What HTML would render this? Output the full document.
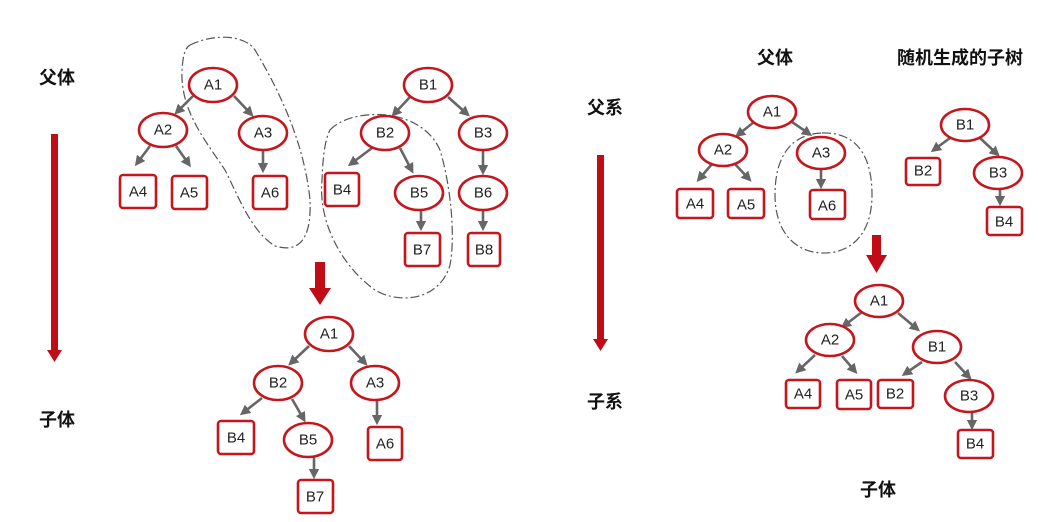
<!DOCTYPE html>
<html><head><meta charset="utf-8"><style>
html,body{margin:0;padding:0;background:#fff;}
svg{display:block;}
text{font-family:"Liberation Sans","Noto Sans CJK SC",sans-serif;}
.n{fill:#fff;stroke:#c4161c;stroke-width:2.6;}
.t{font-size:15px;fill:#222;text-anchor:middle;dominant-baseline:central;}
.e{stroke:#666;stroke-width:2.6;fill:none;marker-end:url(#ah);}
.d{fill:none;stroke:#555;stroke-width:1.2;stroke-dasharray:9 3 2 3;}
.l{font-size:18px;font-weight:bold;fill:#111;text-anchor:middle;dominant-baseline:central;font-family:"Liberation Sans","Noto Sans CJK SC",sans-serif;}
</style></head><body>
<svg width="1038" height="522" viewBox="0 0 1038 522" xmlns="http://www.w3.org/2000/svg">
<defs><marker id="ah" markerWidth="4" markerHeight="4" refX="2" refY="2" orient="auto" markerUnits="strokeWidth"><path d="M0,0 L4,2 L0,4 Z" fill="#666"/></marker></defs>

<!-- left labels & arrow -->
<text class="l" x="57" y="78">父体</text>
<text class="l" x="57" y="420">子体</text>
<rect x="51" y="134" width="7" height="218" fill="#c00c17"/>
<path d="M47,350 L62,350 L54.5,362 Z" fill="#c00c17"/>

<!-- dashed loops left -->
<path class="d" d="M190,45 C215,33 245,35 255,50 C285,100 305,150 310,200 C312,245 295,252 275,246 C252,232 240,200 225,170 C205,140 180,110 182,70 C183,55 185,48 190,45 Z"/>
<path class="d" d="M330,130 C350,108 420,105 440,150 C452,190 455,240 450,265 C440,300 400,305 375,290 C340,265 318,220 322,180 C323,155 325,140 330,130 Z"/>

<!-- left top edges -->
<line class="e" x1="193" y1="96" x2="178" y2="111"/>
<line class="e" x1="234" y1="96" x2="250" y2="113"/>
<line class="e" x1="150" y1="146" x2="138" y2="162"/>
<line class="e" x1="176" y1="146" x2="188" y2="163"/>
<line class="e" x1="263" y1="150" x2="263" y2="168"/>
<line class="e" x1="410" y1="97" x2="395" y2="113"/>
<line class="e" x1="448" y1="97" x2="466" y2="113"/>
<line class="e" x1="372" y1="148" x2="352" y2="163"/>
<line class="e" x1="400" y1="148" x2="411" y2="169"/>
<line class="e" x1="483" y1="150" x2="483" y2="170"/>
<line class="e" x1="421" y1="210" x2="421" y2="226"/>
<line class="e" x1="483" y1="210" x2="483" y2="226"/>

<!-- left top nodes -->
<ellipse class="n" cx="213" cy="85" rx="24" ry="17"/><text class="t" x="213" y="85">A1</text>
<ellipse class="n" cx="163" cy="130" rx="24" ry="17"/><text class="t" x="163" y="130">A2</text>
<ellipse class="n" cx="263" cy="133" rx="24" ry="17"/><text class="t" x="263" y="133">A3</text>
<rect class="n" x="120" y="175" width="36" height="33" rx="3"/><text class="t" x="138" y="192">A4</text>
<rect class="n" x="172" y="176" width="35" height="33" rx="3"/><text class="t" x="189" y="193">A5</text>
<rect class="n" x="253" y="176" width="34" height="33" rx="3"/><text class="t" x="270" y="193">A6</text>
<ellipse class="n" cx="428" cy="85" rx="24" ry="17"/><text class="t" x="428" y="85">B1</text>
<ellipse class="n" cx="385" cy="133" rx="24" ry="17"/><text class="t" x="385" y="133">B2</text>
<ellipse class="n" cx="483" cy="133" rx="24" ry="17"/><text class="t" x="483" y="133">B3</text>
<rect class="n" x="325" y="173" width="34" height="33" rx="3"/><text class="t" x="342" y="190">B4</text>
<ellipse class="n" cx="419" cy="193" rx="24" ry="17"/><text class="t" x="419" y="193">B5</text>
<ellipse class="n" cx="483" cy="193" rx="24" ry="17"/><text class="t" x="483" y="193">B6</text>
<rect class="n" x="405" y="233" width="35" height="33" rx="3"/><text class="t" x="422" y="250">B7</text>
<rect class="n" x="468" y="233" width="32" height="33" rx="3"/><text class="t" x="484" y="250">B8</text>

<!-- red down arrow -->
<rect x="315" y="262" width="10" height="28" fill="#c00c17"/>
<path d="M309,288 L331,288 L320,305 Z" fill="#c00c17"/>

<!-- left bottom -->
<line class="e" x1="309" y1="346" x2="292" y2="362"/>
<line class="e" x1="349" y1="346" x2="364" y2="362"/>
<line class="e" x1="262" y1="398" x2="244" y2="412"/>
<line class="e" x1="292" y1="399" x2="303" y2="418"/>
<line class="e" x1="377" y1="400" x2="377" y2="420"/>
<line class="e" x1="314" y1="457" x2="314" y2="474"/>
<ellipse class="n" cx="329" cy="334" rx="24" ry="17"/><text class="t" x="329" y="334">A1</text>
<ellipse class="n" cx="278" cy="383" rx="24" ry="17"/><text class="t" x="278" y="383">B2</text>
<ellipse class="n" cx="375" cy="383" rx="24" ry="17"/><text class="t" x="375" y="383">A3</text>
<rect class="n" x="218" y="421" width="36" height="33" rx="3"/><text class="t" x="236" y="438">B4</text>
<ellipse class="n" cx="308" cy="440" rx="24" ry="17"/><text class="t" x="308" y="440">B5</text>
<rect class="n" x="368" y="427" width="34" height="33" rx="3"/><text class="t" x="385" y="444">A6</text>
<rect class="n" x="298" y="480" width="35" height="33" rx="3"/><text class="t" x="315" y="497">B7</text>

<!-- right labels -->
<text class="l" x="775" y="58">父体</text>
<text class="l" x="960" y="58">随机生成的子树</text>
<text class="l" x="605" y="108">父系</text>
<text class="l" x="605" y="402">子系</text>
<text class="l" x="878" y="490">子体</text>
<rect x="597" y="155" width="7" height="186" fill="#c00c17"/>
<path d="M593,339 L608,339 L600.5,351 Z" fill="#c00c17"/>

<!-- right dashed loop -->
<path class="d" d="M822,133 C852,132 872,150 872,195 C872,235 850,254 822,253 C795,252 775,232 775,195 C775,155 792,134 822,133 Z"/>

<!-- right top edges -->
<line class="e" x1="754" y1="122" x2="739" y2="134"/>
<line class="e" x1="792" y1="122" x2="808" y2="133"/>
<line class="e" x1="712" y1="164" x2="700" y2="178"/>
<line class="e" x1="735" y1="164" x2="748" y2="178"/>
<line class="e" x1="821" y1="170" x2="821" y2="184"/>
<line class="e" x1="950" y1="138" x2="935" y2="149"/>
<line class="e" x1="980" y1="138" x2="996" y2="153"/>
<line class="e" x1="1000" y1="190" x2="1000" y2="201"/>

<ellipse class="n" cx="772" cy="112" rx="24" ry="16"/><text class="t" x="772" y="112">A1</text>
<ellipse class="n" cx="723" cy="150" rx="24" ry="16"/><text class="t" x="723" y="150">A2</text>
<ellipse class="n" cx="821" cy="153" rx="24" ry="16"/><text class="t" x="821" y="153">A3</text>
<rect class="n" x="677" y="189" width="36" height="29" rx="3"/><text class="t" x="695" y="204">A4</text>
<rect class="n" x="728" y="189" width="36" height="29" rx="3"/><text class="t" x="746" y="205">A5</text>
<rect class="n" x="810" y="190" width="35" height="29" rx="3"/><text class="t" x="827" y="206">A6</text>
<ellipse class="n" cx="965" cy="125" rx="24" ry="16"/><text class="t" x="965" y="125">B1</text>
<rect class="n" x="906" y="158" width="34" height="27" rx="3"/><text class="t" x="923" y="171">B2</text>
<ellipse class="n" cx="998" cy="173" rx="24" ry="16"/><text class="t" x="998" y="173">B3</text>
<rect class="n" x="987" y="207" width="35" height="28" rx="3"/><text class="t" x="1004" y="222">B4</text>

<!-- right red arrow -->
<rect x="872" y="235" width="9" height="22" fill="#c00c17"/>
<path d="M866,255 L887,255 L876.5,273 Z" fill="#c00c17"/>

<!-- right bottom -->
<line class="e" x1="862" y1="312" x2="845" y2="325"/>
<line class="e" x1="898" y1="313" x2="916" y2="328"/>
<line class="e" x1="815" y1="355" x2="799" y2="370"/>
<line class="e" x1="842" y1="356" x2="854" y2="370"/>
<line class="e" x1="922" y1="362" x2="906" y2="373"/>
<line class="e" x1="955" y1="362" x2="968" y2="376"/>
<line class="e" x1="972" y1="413" x2="972" y2="425"/>
<ellipse class="n" cx="879" cy="301" rx="24" ry="16"/><text class="t" x="879" y="301">A1</text>
<ellipse class="n" cx="830" cy="340" rx="24" ry="16"/><text class="t" x="830" y="340">A2</text>
<ellipse class="n" cx="937" cy="347" rx="24" ry="16"/><text class="t" x="937" y="347">B1</text>
<rect class="n" x="786" y="380" width="34" height="28" rx="3"/><text class="t" x="803" y="394">A4</text>
<rect class="n" x="837" y="380" width="34" height="29" rx="3"/><text class="t" x="854" y="395">A5</text>
<rect class="n" x="878" y="380" width="35" height="28" rx="3"/><text class="t" x="895" y="394">B2</text>
<ellipse class="n" cx="969" cy="396" rx="24" ry="16"/><text class="t" x="969" y="396">B3</text>
<rect class="n" x="958" y="430" width="35" height="28" rx="3"/><text class="t" x="975" y="444">B4</text>
</svg>
</body></html>
